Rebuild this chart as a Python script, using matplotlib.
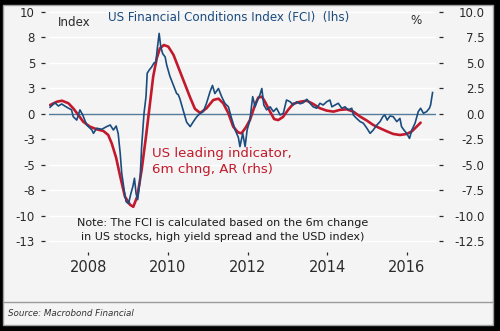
import matplotlib
matplotlib.use('Agg')
from matplotlib import pyplot as plt
from matplotlib.patches import Rectangle
from matplotlib.lines import Line2D

# FCI (lhs)
fci_years = [2007.04, 2007.16, 2007.25, 2007.33, 2007.46, 2007.58, 2007.62, 2007.71,
             2007.79, 2007.86, 2007.96, 2008.09, 2008.13, 2008.21, 2008.34, 2008.46,
             2008.55, 2008.63, 2008.70, 2008.75, 2008.80, 2008.84, 2008.90, 2008.95,
             2009.01, 2009.07, 2009.12, 2009.16, 2009.20, 2009.24, 2009.30, 2009.34,
             2009.40, 2009.45, 2009.48, 2009.53, 2009.59, 2009.65, 2009.70, 2009.73,
             2009.78, 2009.82, 2009.87, 2009.93, 2009.97, 2010.05, 2010.14, 2010.22,
             2010.26, 2010.30, 2010.39, 2010.47, 2010.56, 2010.64, 2010.72, 2010.81,
             2010.89, 2010.97, 2011.06, 2011.12, 2011.18, 2011.27, 2011.35, 2011.43,
             2011.52, 2011.60, 2011.69, 2011.77, 2011.81, 2011.88, 2011.94, 2011.99,
             2012.06, 2012.13, 2012.19, 2012.25, 2012.31, 2012.36, 2012.41, 2012.48,
             2012.57, 2012.65, 2012.73, 2012.82, 2012.90, 2012.98, 2013.07, 2013.15,
             2013.24, 2013.32, 2013.40, 2013.49, 2013.57, 2013.65, 2013.74, 2013.82,
             2013.90, 2013.99, 2014.07, 2014.12, 2014.20, 2014.28, 2014.37, 2014.45,
             2014.53, 2014.62, 2014.66, 2014.74, 2014.83, 2014.91, 2015.00, 2015.08,
             2015.16, 2015.25, 2015.33, 2015.40, 2015.45, 2015.51, 2015.58, 2015.66,
             2015.75, 2015.83, 2015.87, 2015.93, 2016.00, 2016.07, 2016.13, 2016.21,
             2016.29, 2016.35, 2016.42, 2016.50, 2016.57, 2016.60, 2016.65]
fci = [0.66, 1.1, 0.78, 0.98, 0.66, 0.4, -0.26, -0.6,
       0.4, -0.1, -1.08, -1.57, -1.9, -1.4, -1.5, -1.24,
       -1.08, -1.57, -1.18, -1.9, -3.8, -5.8, -7.45, -8.6,
       -8.8, -7.8, -7.1, -6.3, -7.8, -8.4, -6.5, -3.2,
       0.07, 1.7, 4.0, 4.3, 4.6, 5.0, 5.1, 6.3,
       7.9, 6.6, 5.9, 5.6, 4.8, 3.7, 2.8, 2.0,
       1.9, 1.5, 0.3, -0.8, -1.24, -0.75, -0.3, 0.07,
       0.23, 1.05, 2.2, 2.8, 2.0, 2.5, 1.7, 1.05,
       0.7, -0.43, -1.57, -2.3, -3.2, -1.9, -3.2, -1.57,
       -0.6, 1.7, 0.7, 1.37, 1.86, 2.5, 0.88, 0.4,
       0.7, 0.23, 0.56, -0.1, 0.07, 1.37, 1.2, 0.88,
       1.2, 1.0, 1.1, 1.44, 1.05, 0.7, 0.56, 1.05,
       0.88, 1.2, 1.37, 0.7, 0.88, 1.05, 0.56, 0.7,
       0.4, 0.56, -0.1, -0.43, -0.75, -0.9, -1.4, -1.9,
       -1.57, -1.08, -0.75, -0.26, -0.1, -0.6, -0.2, -0.26,
       -0.75, -0.43, -1.24, -1.57, -1.9, -2.4, -1.57, -0.9,
       0.23, 0.56, 0.07, 0.23, 0.56, 0.88, 2.1]

# US leading indicator, 6m chng, AR (rhs)
lei_years = [2007.04, 2007.21, 2007.34, 2007.50, 2007.62, 2007.75, 2007.87, 2008.04,
             2008.21, 2008.38, 2008.50, 2008.59, 2008.70, 2008.80, 2008.92, 2009.05,
             2009.13, 2009.23, 2009.34, 2009.45, 2009.55, 2009.63, 2009.72, 2009.80,
             2009.90, 2010.01, 2010.14, 2010.26, 2010.39, 2010.56, 2010.68, 2010.81,
             2010.97, 2011.14, 2011.27, 2011.39, 2011.52, 2011.64, 2011.76, 2011.85,
             2011.96, 2012.06, 2012.19, 2012.27, 2012.36, 2012.44, 2012.57, 2012.67,
             2012.77, 2012.89, 2013.02, 2013.15, 2013.32, 2013.49, 2013.65, 2013.82,
             2013.99, 2014.16, 2014.32, 2014.49, 2014.66, 2014.83, 2015.00, 2015.16,
             2015.33, 2015.50, 2015.66, 2015.83, 2016.00, 2016.13, 2016.25, 2016.35]
lei = [0.88, 1.2, 1.3, 1.05, 0.56, -0.1, -0.75, -1.24,
       -1.5, -1.67, -2.06, -2.9, -4.3, -6.1, -8.1, -8.9,
       -9.1, -8.1, -5.5, -2.2, 1.05, 3.66, 5.46, 6.44,
       6.76, 6.6, 5.8, 4.6, 3.3, 1.6, 0.5, 0.1,
       0.56, 1.37, 1.5, 1.05, 0.07, -1.24, -1.8, -1.9,
       -1.3, -0.6, 0.9, 1.6, 1.7, 1.2, 0.2, -0.5,
       -0.6, -0.3, 0.4, 1.0, 1.2, 1.3, 0.98, 0.56,
       0.33, 0.23, 0.4, 0.46, 0.23, -0.26, -0.65, -1.08,
       -1.4, -1.7, -1.96, -2.06, -1.96, -1.7, -1.24, -0.85]

y_ticks = [10, 7.5, 5, 2.5, 0, -2.5, -5, -7.5, -10, -12.5]
left_labels = ['10', '8', '5', '3', '0', '-3', '-5', '-8', '-10', '-13']
right_labels = ['10.0', '7.5', '5.0', '2.5', '0.0', '-2.5', '-5.0', '-7.5', '-10.0', '-12.5']
x_ticks = [2008, 2010, 2012, 2014, 2016]

blue = '#1b4c7e'
red = '#c21a2c'
txt = '#2a2a2a'

plt.rcParams['font.family'] = ['DejaVu Sans']
plt.rcParams['axes.unicode_minus'] = False

fig = plt.figure(figsize=(5.0, 3.31), dpi=100, facecolor='black')
W, H = 500.0, 331.0

# light panel inside the black frame
fig.patches.append(Rectangle((3 / W, 1 - 325 / H), 490 / W, 320 / H, transform=fig.transFigure,
                             facecolor='#f4f4f4', edgecolor='#a0a0a0', lw=1, zorder=-10))

ax = fig.add_axes([48.5 / W, 1 - 248.6 / H, (436 - 48.5) / W, (248.6 - 7.9) / H])
ax2 = ax.twinx()

for a in (ax, ax2):
    a.set_xlim(2007.0, 2016.736)
    a.set_ylim(-13.2, 10.4)
    a.patch.set_visible(False)
    for s in a.spines.values():
        s.set_visible(False)

ax2.set_zorder(1)
ax.set_zorder(2)

# grid + zero line under the series
for v in y_ticks:
    if v != 0:
        ax2.axhline(v, color='white', lw=1.0, zorder=0)
ax2.axhline(0, color='#557c9c', lw=1.0, zorder=1)

ax2.plot(lei_years, lei, color=red, lw=1.9, zorder=3, solid_capstyle='round')
ax.plot(fci_years, fci, color=blue, lw=1.2, zorder=4)

ax.set_yticks(y_ticks)
ax.set_yticklabels(left_labels)
ax2.set_yticks(y_ticks)
ax2.set_yticklabels(right_labels)
ax.set_xticks(x_ticks)
ax.set_xticklabels([str(y) for y in x_ticks])

ax.spines['left'].set_position(('outward', 2.5))
ax2.spines['right'].set_position(('outward', 2.2))
ax.spines['bottom'].set_position(('outward', 2.2))

ax.tick_params(axis='y', length=2.9, width=0.9, color=txt, labelcolor=txt,
               labelsize=8.5, pad=4.3)
ax2.tick_params(axis='y', length=2.9, width=0.9, color=txt, labelcolor=txt,
                labelsize=8.5, pad=30)
ax.tick_params(axis='x', length=2.5, width=0.9, color=txt, labelcolor=txt,
               labelsize=10.5, pad=3.5)
ax2.tick_params(axis='x', bottom=False, labelbottom=False)

# right-hand labels are right aligned in the original
for t in ax2.yaxis.get_major_ticks():
    t.label2.set_horizontalalignment('right')

# texts
fig.text(108 / W, 1 - 17.5 / H, 'US Financial Conditions Index (FCI)  (lhs)', color=blue,
         fontsize=8.6, ha='left', va='center')
fig.text(58 / W, 1 - 23 / H, 'Index', color=txt, fontsize=8.6, ha='left', va='center')
fig.text(410 / W, 1 - 20 / H, '%', color=txt, fontsize=8.6, ha='left', va='center')
fig.text(151.5 / W, 1 - 153.5 / H, 'US leading indicator,', color=red, fontsize=9.6,
         ha='left', va='center')
fig.text(151.5 / W, 1 - 169.5 / H, '6m chng, AR (rhs)', color=red, fontsize=9.6,
         ha='left', va='center')
fig.text(223 / W, 1 - 222.7 / H, 'Note: The FCI is calculated based on the 6m change',
         color='#1a1a1a', fontsize=8, ha='center', va='center')
fig.text(223 / W, 1 - 237 / H, 'in US stocks, high yield spread and the USD index)',
         color='#1a1a1a', fontsize=8, ha='center', va='center')

fig.lines.append(Line2D([4 / W, 492 / W], [1 - 302 / H, 1 - 302 / H], transform=fig.transFigure,
                        color='#9a9a9a', lw=1))
fig.text(8 / W, 1 - 313.5 / H, 'Source: Macrobond Financial', color='#333333', fontsize=6.3,
         style='italic', ha='left', va='center')

fig.savefig('out.png', dpi=100, facecolor='black')
